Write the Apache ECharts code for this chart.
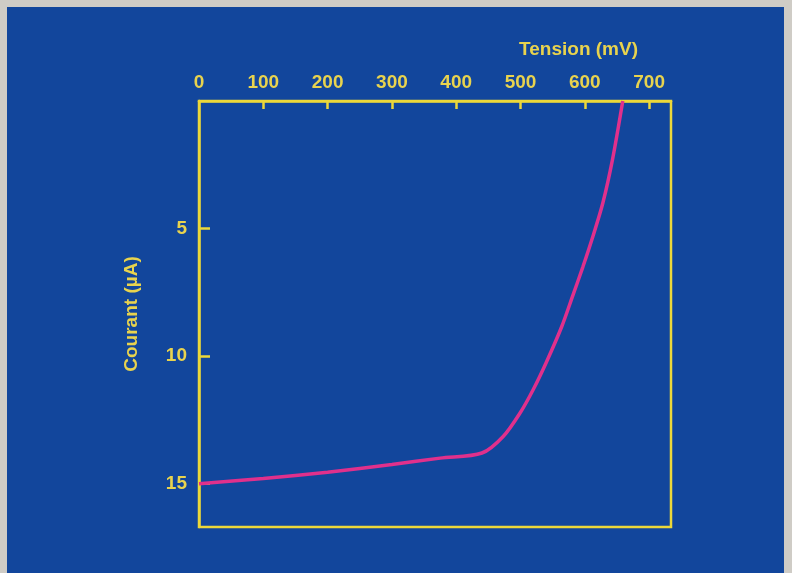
<!DOCTYPE html>
<html>
<head>
<meta charset="utf-8">
<script src="https://cdn.jsdelivr.net/npm/echarts@6/dist/echarts.min.js"></script>
<style>
  html, body { margin: 0; padding: 0; background: #cfccc6; }
  #panel { position: absolute; left: 7px; top: 7px; width: 777px; height: 566px; background: #12469c; }
  #main { position: absolute; left: 0; top: 0; width: 792px; height: 573px; }
</style>
</head>
<body>
<div id="panel"></div>
<div id="main"></div>
<script>
  // tension (mV) / courant (µA)
  const tension = [0, 100, 200, 300, 375, 440, 473, 500, 520, 540, 564, 581, 597, 612, 628, 643, 659];
  const courant = [15.0, 14.8, 14.55, 14.25, 14.0, 13.8, 13.15, 12.2, 11.3, 10.25, 8.85, 7.65, 6.5, 5.35, 4.0, 2.3, 0];
  const xTicks = [100, 200, 300, 400, 500, 600, 700];
  const xLabels = [0, 100, 200, 300, 400, 500, 600, 700];
  const yTicks = [5, 10, 15];

  const yellow = '#ecd83a';
  const textYellow = '#e8d34e';

  const chart = echarts.init(document.getElementById('main'), null, { renderer: 'canvas' });

  const option = {
    backgroundColor: 'transparent',
    animation: false,
    title: {
      text: 'Tension (mV)',
      right: 149,
      top: 35,
      textStyle: { color: textYellow, fontSize: 19, fontWeight: 'bold', fontFamily: 'Liberation Sans' }
    },
    grid: {
      left: 199, top: 101, right: 121, bottom: 46,
      show: true, borderColor: yellow, borderWidth: 2.5, backgroundColor: 'transparent'
    },
    xAxis: {
      type: 'value',
      position: 'top',
      min: 0, max: 734, interval: 100,
      axisLine: { show: true, lineStyle: { color: yellow, width: 2.5 } },
      axisTick: { show: true, inside: true, length: 8, customValues: xTicks, lineStyle: { color: yellow, width: 2.5 } },
      axisLabel: {
        customValues: xLabels, margin: 9,
        color: textYellow, fontSize: 19, fontWeight: 'bold', fontFamily: 'Liberation Sans'
      },
      splitLine: { show: false }
    },
    yAxis: {
      type: 'value',
      inverse: true,
      min: 0, max: 16.7, interval: 5,
      name: 'Courant (µA)',
      nameLocation: 'middle',
      nameGap: 58,
      nameTextStyle: { color: textYellow, fontSize: 19, fontWeight: 'bold', fontFamily: 'Liberation Sans' },
      axisLine: { show: true, lineStyle: { color: yellow, width: 2.5 } },
      axisTick: { show: true, inside: true, length: 11, customValues: yTicks, lineStyle: { color: yellow, width: 2.5 } },
      axisLabel: {
        customValues: yTicks, margin: 12,
        color: textYellow, fontSize: 19, fontWeight: 'bold', fontFamily: 'Liberation Sans'
      },
      splitLine: { show: false }
    },
    series: [{
      type: 'line',
      data: tension.map((t, i) => [t, courant[i]]),
      smooth: 0.3,
      showSymbol: false,
      lineStyle: { color: '#e0308c', width: 3.5 }
    }]
  };

  chart.setOption(option);
</script>
</body>
</html>
